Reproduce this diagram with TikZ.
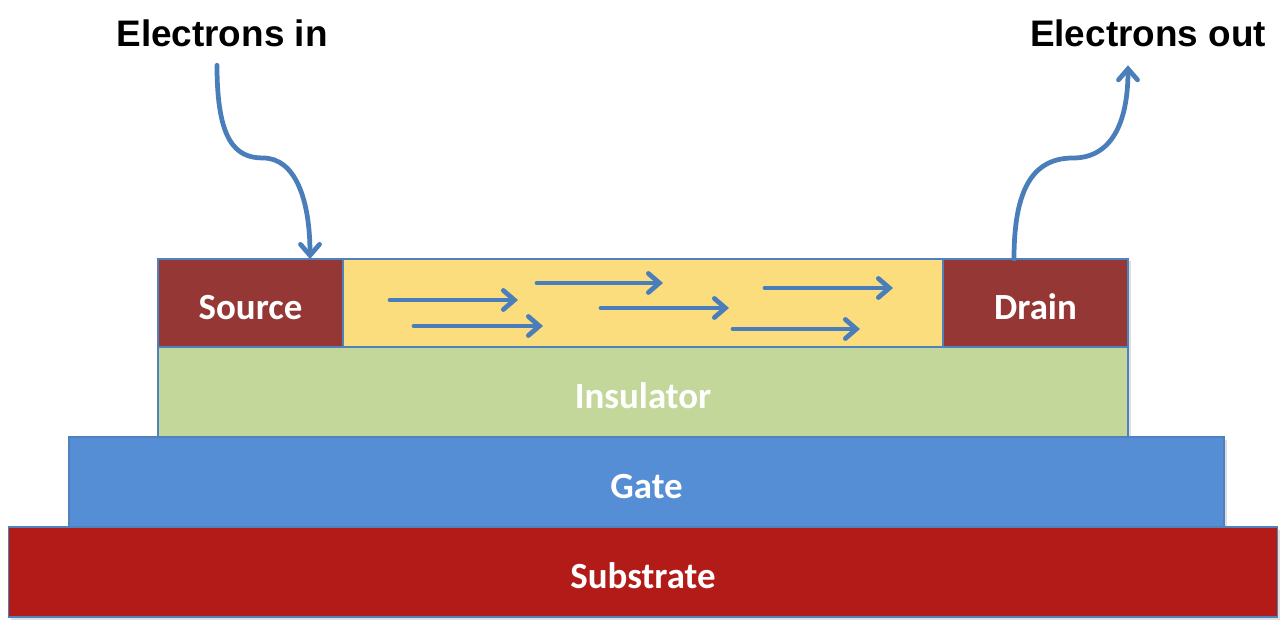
\documentclass[tikz,border=0pt]{standalone}
\usepackage{fontspec}
\setmainfont{Carlito}
\newfontfamily\arialfont{Liberation Sans}
\usetikzlibrary{positioning,calc,arrows.meta,shadows}

\definecolor{edgeblue}{RGB}{79,129,189}
\definecolor{flowblue}{RGB}{74,126,187}
\definecolor{contactred}{RGB}{149,55,53}
\definecolor{channelyellow}{RGB}{251,221,126}
\definecolor{insulgreen}{RGB}{196,215,155}
\definecolor{gateblue}{RGB}{85,142,213}
\definecolor{subred}{RGB}{179,27,24}

\begin{document}
\begin{tikzpicture}[node distance=0cm,
        layer/.style={draw=edgeblue, line width=0.6pt, rectangle, inner sep=0pt, outer sep=0pt,
            minimum height=1.8cm, text=white, text height=19pt, text depth=0pt,
            font=\fontsize{21}{24}\selectfont\bfseries,
            drop shadow={opacity=0.25, shadow xshift=0.05cm, shadow yshift=-0.05cm}},
        contact/.style={layer, fill=contactred, minimum width=3.7cm, minimum height=1.76cm},
        flow/.style={draw=flowblue, line width=2.7pt, line cap=round,
            -{Straight Barb[length=2.2mm,width=3.8mm,line cap=round]}},
        title/.style={font=\arialfont\fontsize{21}{24}\selectfont\bfseries}
    ]
        \useasboundingbox (0,0) rectangle (25.74,-12.62);

        % transistor stack
        \node [contact, anchor=north west] (source) at (3.16,-5.18) {Source};
        \node [layer, fill=channelyellow, right=of source, minimum width=12cm, minimum height=1.76cm] (channel) {};
        \node [contact, right=of channel] (drain) {Drain};
        \node [layer, fill=insulgreen, below=of channel, minimum width=19.4cm] (insul) {Insulator};
        \node [layer, fill=gateblue, below=of insul, xshift=0.07cm, minimum width=23.1cm] (gate) {Gate};
        \node [layer, fill=subred, below=of gate, xshift=-0.07cm, minimum width=25.38cm] (substrate) {Substrate};

        % labels
        \node [title] (ein) at (4.44,-0.66) {Electrons in};
        \node [title] (eout) at (22.96,-0.66) {Electrons out};

        \coordinate (intip) at ($(source.north east)+(-0.66,0)$);
        \coordinate (outfoot) at ($(drain.north west)+(1.42,0)$);
        \coordinate (outtip) at ($(eout.south)+(-0.4,-0.25)$);

        \draw [flow] ([xshift=-0.1cm,yshift=-0.25cm]ein.south)
            .. controls +(0,-1.5) and (4.7,-3.16) .. (5.26,-3.16)
            .. controls (5.9,-3.16) and ($(intip)+(0,1.2)$) .. (intip);
        \draw [flow] (outfoot)
            .. controls +(0,1.3) and (20.6,-3.16) .. (21.46,-3.16)
            .. controls (22.2,-3.16) and ($(outtip)+(0,-1.2)$) .. (outtip);

        % electrons in the channel
        \foreach \xa/\xb/\y in {7.8/10.36/-6.0, 8.28/10.86/-6.52, 10.74/13.26/-5.66,
                                12.02/14.58/-6.16, 14.66/17.2/-6.58, 15.3/17.86/-5.76}
            \draw [flow] (\xa,\y) -- (\xb,\y);
    \end{tikzpicture}
\end{document}
